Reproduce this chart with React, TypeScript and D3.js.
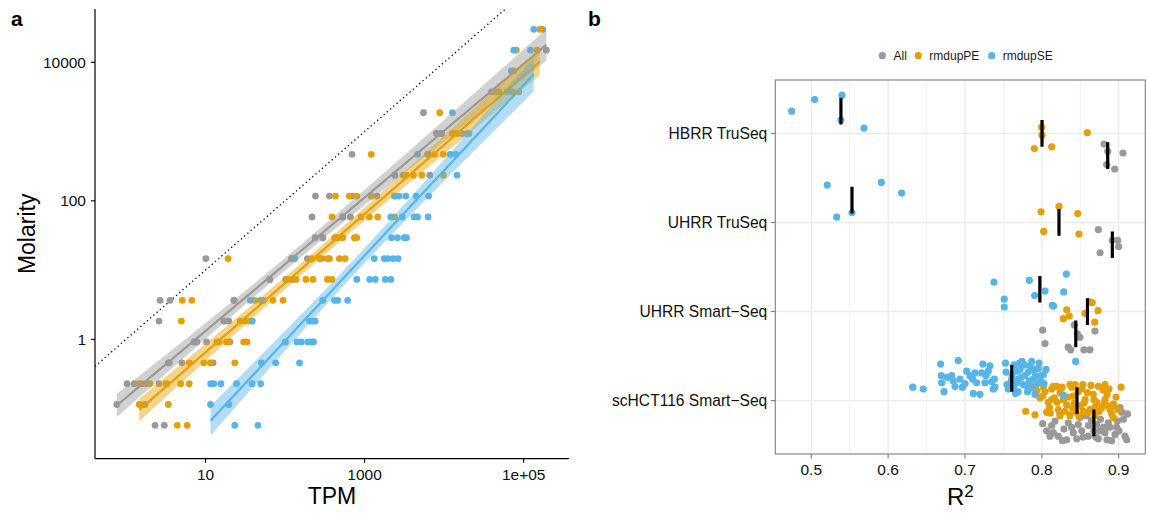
import React from 'react';
import * as d3 from 'd3';

// ERCC spike-in concentrations (attomol/µl), one row of points per level
const molarityLevels = [
  30000, 15000, 7500, 3750, 1875, 937.5, 468.75, 234.4, 117.2, 58.59,
  29.3, 14.65, 7.324, 3.662, 1.831, 0.9155, 0.4578, 0.2289, 0.1144, 0.05722,
];

// TPM of each spike-in, grouped by molarity level (same order as molarityLevels)
const tpmAll = [
  [173000], [193000], [], [39300, 48800], [5490], [7990, 9230, 9230], [695, 6230, 6230],
  [2400, 2400, 3060, 6600], [241, 361, 695, 1210, 1430], [218, 530, 530, 662],
  [239, 298, 298, 459], [10.1, 121, 121, 191, 287], [63.9, 63.9, 102, 124],
  [2.68, 3.57, 22.8, 22.8], [2.6, 17, 17.5, 19.6], [7.13, 7.4, 7.78, 10.3, 20.2],
  [3.4, 3.5, 5.05, 12.45], [1.03, 1.27, 1.8, 2.6, 3.18], [0.767, 1.73], [2.32, 3.03],
];
const tpmRmdupPE = [
  [159000], [80800, 148000], [75100], [48800, 71600, 86800], [8810],
  [12700, 14700, 20500], [1210, 7540, 9770], [3330, 4110, 5240, 9770],
  [429, 643, 798, 1210, 2460], [390, 902, 1150, 1460, 2380], [421, 530, 743, 794],
  [19.2, 221, 271, 338, 361, 482, 568], [108, 138, 183, 224, 341, 388],
  [5.09, 6.73, 41.5, 70.3, 94.4], [4.97, 27.3, 31.7, 36.6],
  [13.9, 14.7, 18.3, 19.6, 30.2, 33.2], [6.27, 9.52, 11.5, 23.3],
  [1.47, 1.59, 2.0, 3.27, 4.86, 6.23], [1.47, 3.4], [4.41, 5.88],
];
const tpmRmdupSE = [
  [134000], [75100, 122000], [69900], [44700, 61900], [12700], [16800, 19400],
  [4640, 11900, 14100], [14500], [2360, 2720, 3300, 4450, 6380],
  [2130, 2970, 4200, 4620, 6290], [2180, 2590, 3150, 3360],
  [133, 1320, 1770, 1980, 2290, 2640], [798, 1160, 1360, 1820, 2140],
  [36.6, 48.9, 53.8, 298, 417, 459, 612], [38.8, 203, 223, 239],
  [101, 141, 160, 193, 213, 228], [50.3, 76.0, 152],
  [11.6, 12.7, 15.6, 24.5, 38.4, 49.3], [11.55, 19.6], [23.3, 45.6],
];

const seriesNames = ['All', 'rmdupPE', 'rmdupSE'];
const seriesColors = ['#999999', '#E69F00', '#56B4E9'];

const xTicksA = [10, 1000, 100000];
const xTickLabelsA = ['10', '1000', '1e+05'];
const yTicksA = [1, 100, 10000];
const yTickLabelsA = ['1', '100', '10000'];

const libraries = ['HBRR TruSeq', 'UHRR TruSeq', 'UHRR Smart\u2212Seq', 'scHCT116 Smart\u2212Seq'];

// [R², vertical jitter in category steps] per library
const r2All = [
  [[0.8809, -0.13], [0.8857, -0.05], [0.9056, -0.03], [0.8844, 0.10], [0.8948, 0.15]],
  [[0.8735, -0.17], [0.8917, -0.05], [0.8987, -0.05], [0.9, 0.02], [0.8757, 0.09]],
  [[0.8011, -0.04], [0.8041, 0.11], [0.8344, 0.15], [0.8375, 0.18], [0.8422, -0.10],
   [0.8461, 0.0], [0.8496, 0.04], [0.8548, 0.18], [0.8626, 0.18], [0.8691, -0.03]],
  [[0.8011, 0.01], [0.8063, 0.09], [0.8106, 0.15], [0.8128, 0.03], [0.8171, -0.02],
   [0.8214, 0.15], [0.8236, -0.10], [0.8288, 0.07], [0.8323, 0.19], [0.8344, 0.0],
   [0.8388, 0.05], [0.8409, 0.11], [0.8454, 0.18], [0.8474, 0.02], [0.8496, -0.06],
   [0.8519, 0.09], [0.8535, 0.16], [0.8574, -0.08], [0.8604, 0.15], [0.8607, 0.03],
   [0.8646, -0.03], [0.8677, 0.09], [0.8714, 0.02], [0.8735, 0.18], [0.8757, 0.09],
   [0.8763, -0.04], [0.8802, 0.05], [0.8822, 0.11], [0.8848, 0.19], [0.8865, 0.0],
   [0.8887, 0.05], [0.893, -0.19], [0.8952, 0.13], [0.8974, 0.05], [0.8983, -0.02],
   [0.9017, -0.17], [0.9039, -0.12], [0.9061, -0.04], [0.9082, 0.15], [0.9115, -0.10],
   [0.9104, 0.19], [0.8149, 0.11], [0.8701, 0.16], [0.8908, 0.20], [0.9004, 0.09],
   [0.8743, -0.13], [0.8269, 0.20]],
];
const r2RmdupPE = [
  [[0.7998, -0.07], [0.8002, 0.02], [0.7902, 0.17], [0.8128, 0.15], [0.8591, -0.01]],
  [[0.7989, -0.12], [0.8223, -0.18], [0.8467, -0.10], [0.8024, 0.10], [0.8483, 0.13]],
  [[0.8279, 0.08], [0.8323, -0.02], [0.8357, 0.05], [0.8561, 0.02], [0.8626, -0.11],
   [0.8656, -0.10], [0.8688, 0.12], [0.8731, -0.01]],
  [[0.779, 0.12], [0.7868, -0.16], [0.7911, 0.16], [0.7933, -0.11], [0.7976, -0.03],
   [0.8011, -0.05], [0.8019, -0.15], [0.8063, 0.13], [0.8083, 0.02], [0.8099, 0.08],
   [0.8128, -0.13], [0.8128, -0.01], [0.8149, -0.16], [0.8162, -0.03], [0.8193, -0.16],
   [0.8214, 0.10], [0.8236, -0.09], [0.8236, 0.17], [0.8279, -0.01], [0.8323, 0.05],
   [0.8366, -0.18], [0.8366, 0.17], [0.8388, -0.15], [0.8409, -0.05], [0.8444, 0.13],
   [0.8496, 0.06], [0.8519, -0.13], [0.8532, -0.18], [0.854, 0.12], [0.8562, -0.01],
   [0.8594, -0.09], [0.8626, 0.10], [0.8669, -0.07], [0.8692, 0.17], [0.8692, 0.07],
   [0.8714, 0.02], [0.8735, -0.16], [0.8779, 0.08], [0.8796, -0.12], [0.8822, -0.18],
   [0.8822, -0.01], [0.8848, -0.07], [0.8865, 0.06], [0.8887, 0.10], [0.8909, 0.15],
   [0.893, 0.04], [0.893, 0.19], [0.903, -0.15], [0.8041, -0.10], [0.8109, 0.14],
   [0.8198, 0.02], [0.8263, -0.15], [0.8302, 0.12], [0.8341, -0.04], [0.8418, 0.03],
   [0.847, -0.10], [0.8483, 0.18], [0.8548, 0.03], [0.86, 0.14], [0.8639, -0.17],
   [0.8678, -0.01], [0.8743, 0.12], [0.8808, 0.03], [0.8874, -0.13], [0.8965, -0.04],
   [0.8991, 0.10], [0.8432, -0.18], [0.8402, 0.09]],
];
const r2RmdupSE = [
  [[0.4745, 0.0], [0.5044, -0.13], [0.54, -0.18], [0.5386, 0.10], [0.5686, 0.19]],
  [[0.5208, -0.17], [0.5331, 0.19], [0.553, 0.14], [0.5911, -0.20], [0.6176, -0.08]],
  [[0.7377, -0.08], [0.7511, 0.11], [0.7511, 0.20], [0.7837, -0.10], [0.7907, 0.07],
   [0.8041, 0.02], [0.8136, 0.18], [0.8152, 0.19], [0.8284, 0.03], [0.8318, -0.17]],
  [[0.632, 0.10], [0.6457, 0.12], [0.6684, -0.16], [0.6692, -0.03], [0.6697, 0.05],
   [0.6727, 0.15], [0.677, -0.01], [0.6827, -0.03], [0.6848, 0.03], [0.687, 0.09],
   [0.6913, -0.20], [0.6935, 0.01], [0.6967, 0.10], [0.70, 0.06], [0.7022, -0.08],
   [0.7065, -0.03], [0.71, 0.01], [0.7108, 0.17], [0.713, -0.06], [0.7152, 0.05],
   [0.7195, 0.18], [0.7217, -0.06], [0.7234, -0.16], [0.726, 0.05], [0.7273, -0.03],
   [0.7303, -0.08], [0.7325, -0.14], [0.7345, 0.04], [0.7368, 0.12], [0.7381, 0.01],
   [0.739, 0.10], [0.7527, -0.17], [0.7534, -0.07], [0.7547, 0.07], [0.7563, 0.12],
   [0.7673, -0.08], [0.7673, 0.05], [0.769, 0.15], [0.7694, 0.01], [0.7716, -0.10],
   [0.7742, -0.19], [0.7759, 0.07], [0.7774, -0.15], [0.7781, -0.03], [0.7803, 0.08],
   [0.7813, 0.15], [0.7846, -0.14], [0.7868, -0.19], [0.7889, 0.01], [0.7895, -0.10],
   [0.7911, 0.18], [0.7917, -0.03], [0.7954, -0.11], [0.7982, 0.03], [0.7989, -0.03],
   [0.8019, -0.04], [0.8279, 0.19], [0.844, -0.19], [0.7612, -0.03], [0.7631, 0.10],
   [0.7638, -0.15], [0.7729, -0.01], [0.7822, -0.07], [0.7835, 0.03], [0.7861, 0.11],
   [0.793, 0.07], [0.7963, -0.17], [0.8028, 0.06], [0.8054, -0.10], [0.7708, -0.17],
   [0.7605, 0.02], [0.7657, 0.17]],
];
const xTicksB = [0.5, 0.6, 0.7, 0.8, 0.9];
const xMinorB = [0.55, 0.65, 0.75, 0.85];

const FONT = '"Liberation Sans", Arial, Helvetica, sans-serif';

// panel geometry
const A = { left: 95, right: 569, top: 9, bottom: 458.7 };
const B = { left: 775.3, right: 1145.3, top: 80, bottom: 454 };

const xA = d3.scaleLog().domain([10 ** -0.39, 10 ** 5.57]).range([A.left, A.right]);
const yA = d3.scaleLog().domain([10 ** -1.724, 10 ** 4.77]).range([A.bottom, A.top]);
const xB = d3.scaleLinear().domain([0.4532, 0.9346]).range([B.left, B.right]);
const yB = d3.scalePoint<string>().domain(libraries).range([B.top, B.bottom]).padding(0.6);
const stepB = yB.step();

function tQuantile975(df: number) {
  const z = 1.959964;
  const z3 = z ** 3, z5 = z ** 5, z7 = z ** 7;
  return z + (z3 + z) / (4 * df) + (5 * z5 + 16 * z3 + 3 * z) / (96 * df * df)
    + (3 * z7 + 19 * z5 + 17 * z3 - 15 * z) / (384 * df ** 3);
}

// ordinary least squares on log10 scale, with 95% confidence band of the mean
function linearFit(pts: [number, number][]) {
  const xs = pts.map((p) => Math.log10(p[0]));
  const ys = pts.map((p) => Math.log10(p[1]));
  const n = xs.length;
  const mx = d3.mean(xs) as number;
  const my = d3.mean(ys) as number;
  let sxx = 0, sxy = 0;
  for (let i = 0; i < n; i++) {
    sxx += (xs[i] - mx) ** 2;
    sxy += (xs[i] - mx) * (ys[i] - my);
  }
  const b = sxy / sxx;
  const a = my - b * mx;
  let sse = 0;
  for (let i = 0; i < n; i++) sse += (ys[i] - a - b * xs[i]) ** 2;
  const s = Math.sqrt(sse / (n - 2));
  const t = tQuantile975(n - 2);
  const [lo, hi] = d3.extent(xs) as [number, number];
  return d3.range(80).map((i) => {
    const x = lo + ((hi - lo) * i) / 79;
    const f = a + b * x;
    const se = s * Math.sqrt(1 / n + (x - mx) ** 2 / sxx);
    return { x, f, lo: f - t * se, hi: f + t * se };
  });
}

function toPoints(tpm: number[][]): [number, number][] {
  const out: [number, number][] = [];
  tpm.forEach((row, k) => row.forEach((v) => out.push([v, molarityLevels[k]])));
  return out;
}

const seriesTPM = [tpmAll, tpmRmdupPE, tpmRmdupSE];
const seriesR2 = [r2All, r2RmdupPE, r2RmdupSE];
const dodge = [0.25, 0, -0.25];

export default function App() {
  const ptsA = seriesTPM.map(toPoints);
  const fits = ptsA.map(linearFit);
  const area = d3.area<{ x: number; lo: number; hi: number }>()
    .x((d) => xA(10 ** d.x))
    .y0((d) => yA(10 ** d.lo))
    .y1((d) => yA(10 ** d.hi));
  const line = d3.line<{ x: number; f: number }>()
    .x((d) => xA(10 ** d.x))
    .y((d) => yA(10 ** d.f));
  const idDomain = xA.domain();
  const identity = d3.line<number>().x((v) => xA(v)).y((v) => yA(v))([idDomain[0], idDomain[1]]);

  const medians = seriesR2.map((groups) => groups.map((g) => d3.median(g, (p) => p[0]) as number));

  const legendCircleX = [882.3, 918.3, 991.7];
  const legendTextX = [893.5, 929.3, 1002.7];

  return (
    <svg width={1149} height={513} style={{ position: 'absolute', left: 0, top: 0, background: '#fff' }}
      fontFamily={FONT}>
      <defs>
        <clipPath id="clipA">
          <rect x={A.left} y={A.top} width={A.right - A.left} height={A.bottom - A.top} />
        </clipPath>
        <clipPath id="clipB">
          <rect x={B.left} y={B.top} width={B.right - B.left} height={B.bottom - B.top} />
        </clipPath>
      </defs>
      <rect width={1149} height={513} fill="#fff" />

      {/* panel a: TPM vs molarity */}
      <text x={11} y={26} fontSize={21} fontWeight="bold" fill="#000">a</text>
      <g clipPath="url(#clipA)">
        <path d={identity || ''} stroke="#000" strokeWidth={1.3} strokeDasharray="1.3 3" fill="none" />
        {ptsA.map((pts, s) => (
          <g key={s} fill={seriesColors[s]}>
            {pts.map((p, i) => (
              <circle key={i} cx={xA(p[0])} cy={yA(p[1])} r={3.4} />
            ))}
          </g>
        ))}
        {fits.map((f, s) => (
          <g key={s}>
            <path d={area(f) || ''} fill={seriesColors[s]} fillOpacity={0.45} stroke="none" />
            <path d={line(f) || ''} stroke={seriesColors[s]} strokeWidth={2.2} fill="none" />
          </g>
        ))}
      </g>
      <line x1={A.left} x2={A.left} y1={A.top} y2={A.bottom} stroke="#000" strokeWidth={1.2} />
      <line x1={A.left} x2={A.right} y1={A.bottom} y2={A.bottom} stroke="#000" strokeWidth={1.2} />
      {yTicksA.map((t, i) => (
        <g key={t}>
          <line x1={A.left - 4} x2={A.left} y1={yA(t)} y2={yA(t)} stroke="#000" strokeWidth={1.1} />
          <text x={A.left - 9} y={yA(t)} dy="0.36em" textAnchor="end" fontSize={15.5} fill="#111">
            {yTickLabelsA[i]}
          </text>
        </g>
      ))}
      {xTicksA.map((t, i) => (
        <g key={t}>
          <line x1={xA(t)} x2={xA(t)} y1={A.bottom} y2={A.bottom + 4} stroke="#000" strokeWidth={1.1} />
          <text x={xA(t)} y={480} textAnchor="middle" fontSize={15.5} fill="#111">
            {xTickLabelsA[i]}
          </text>
        </g>
      ))}
      <text x={(A.left + A.right) / 2} y={503.5} textAnchor="middle" fontSize={23} fill="#000">TPM</text>
      <text transform={`translate(35,${(A.top + A.bottom) / 2}) rotate(-90)`} textAnchor="middle"
        fontSize={23} fill="#000">Molarity</text>

      {/* panel b: R² per library */}
      <text x={588} y={26} fontSize={21} fontWeight="bold" fill="#000">b</text>
      {seriesNames.map((name, s) => (
        <g key={name}>
          <circle cx={legendCircleX[s]} cy={55.7} r={3.6} fill={seriesColors[s]} />
          <text x={legendTextX[s]} y={55.7} dy="0.36em" fontSize={12} fill="#1a1a1a">{name}</text>
        </g>
      ))}
      <rect x={B.left} y={B.top} width={B.right - B.left} height={B.bottom - B.top} fill="#fff" />
      {xMinorB.map((t) => (
        <line key={t} x1={xB(t)} x2={xB(t)} y1={B.top} y2={B.bottom} stroke="#F2F2F2" strokeWidth={0.9} />
      ))}
      {xTicksB.map((t) => (
        <line key={t} x1={xB(t)} x2={xB(t)} y1={B.top} y2={B.bottom} stroke="#EBEBEB" strokeWidth={1.3} />
      ))}
      {libraries.map((c) => (
        <line key={c} x1={B.left} x2={B.right} y1={yB(c)} y2={yB(c)} stroke="#EBEBEB" strokeWidth={1.3} />
      ))}
      <g clipPath="url(#clipB)">
        {seriesR2.map((groups, s) => (
          <g key={s} fill={seriesColors[s]}>
            {groups.map((g, ci) =>
              g.map((p, i) => (
                <circle key={`${ci}-${i}`} cx={xB(p[0])}
                  cy={(yB(libraries[ci]) as number) + (dodge[s] + p[1]) * stepB} r={3.6} />
              )))}
          </g>
        ))}
        {medians.map((ms, s) => ms.map((m, ci) => {
          const cy = (yB(libraries[ci]) as number) + dodge[s] * stepB;
          return (
            <line key={`${s}-${ci}`} x1={xB(m)} x2={xB(m)} y1={cy - 0.15 * stepB} y2={cy + 0.15 * stepB}
              stroke="#000" strokeWidth={3.2} />
          );
        }))}
      </g>
      <rect x={B.left} y={B.top} width={B.right - B.left} height={B.bottom - B.top} fill="none"
        stroke="#7f7f7f" strokeWidth={1.1} />
      {libraries.map((c) => (
        <g key={c}>
          <line x1={B.left - 4.5} x2={B.left} y1={yB(c)} y2={yB(c)} stroke="#7f7f7f" strokeWidth={1.1} />
          <text x={B.left - 8} y={yB(c)} dy="0.36em" textAnchor="end" fontSize={15.6} fill="#111">{c}</text>
        </g>
      ))}
      {xTicksB.map((t) => (
        <g key={t}>
          <line x1={xB(t)} x2={xB(t)} y1={B.bottom} y2={B.bottom + 4.5} stroke="#7f7f7f" strokeWidth={1.1} />
          <text x={xB(t)} y={475} textAnchor="middle" fontSize={15.5} fill="#111">{t.toFixed(1)}</text>
        </g>
      ))}
      <text x={(B.left + B.right) / 2} y={505} textAnchor="middle" fontSize={24} fill="#000">
        R<tspan dy={-8.5} fontSize={17}>2</tspan>
      </text>
    </svg>
  );
}
